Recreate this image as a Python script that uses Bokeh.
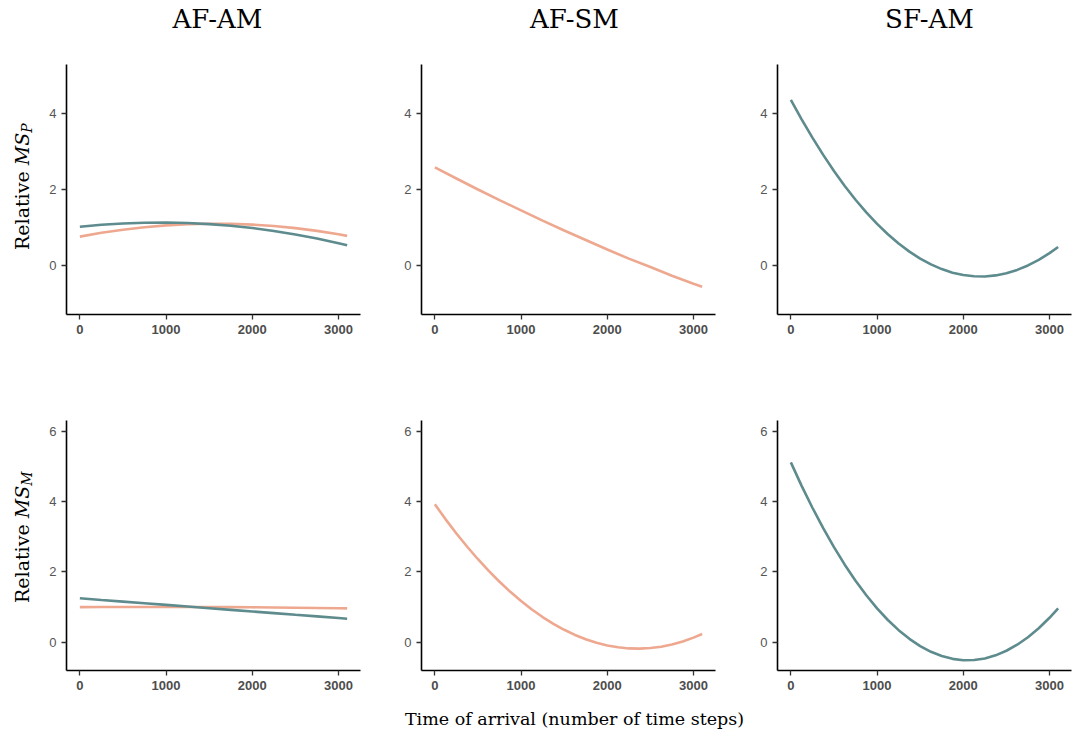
from bokeh.plotting import figure
from bokeh.models import Range1d, FixedTicker, Label, Div
from bokeh.layouts import column, row
from bokeh.embed import file_html
from bokeh.resources import INLINE

# ---------------- data ----------------
col_titles = ["AF-AM", "AF-SM", "SF-AM"]
x_label = "Time of arrival (number of time steps)"
y_label_subs = ["P", "M"]
x_ticks = [0, 1000, 2000, 3000]
msp_ticks = [0, 2, 4]
msm_ticks = [0, 2, 4, 6]

time_steps = [0, 250, 500, 750, 1000, 1250, 1500, 1750, 2000, 2250, 2500, 2750, 3000, 3100]
time_steps_fine = [0, 125, 250, 375, 500, 625, 750, 875, 1000, 1125, 1250, 1375, 1500, 1625,
                   1750, 1875, 2000, 2125, 2250, 2375, 2500, 2625, 2750, 2875, 3000, 3100]

# Relative MS_P (top row)
msp_afam_teal = [1.02, 1.071, 1.107, 1.126, 1.130, 1.118, 1.089, 1.045, 0.985, 0.909, 0.817, 0.708, 0.584, 0.53]
msp_afam_salmon = [0.76, 0.860, 0.942, 1.007, 1.056, 1.086, 1.100, 1.097, 1.076, 1.038, 0.983, 0.911, 0.821, 0.78]
msp_afsm_salmon = [2.58, 2.29, 2.00, 1.72, 1.45, 1.18, 0.92, 0.67, 0.42, 0.18, -0.04, -0.27, -0.48, -0.56]
msp_sfam_teal = [4.361, 3.848, 3.364, 2.911, 2.487, 2.094, 1.731, 1.397, 1.094, 0.821, 0.577, 0.364, 0.181,
                 0.028, -0.095, -0.189, -0.252, -0.285, -0.288, -0.261, -0.204, -0.116, 0.001, 0.148,
                 0.325, 0.488]

# Relative MS_M (bottom row)
msm_afam_teal = [1.25, 1.203, 1.157, 1.110, 1.063, 1.016, 0.969, 0.923, 0.876, 0.829, 0.782, 0.736, 0.689, 0.670]
msm_afam_salmon = [1.00, 1.002, 1.004, 1.005, 1.005, 1.004, 1.002, 0.999, 0.995, 0.990, 0.984, 0.977, 0.968, 0.964]
msm_afsm_salmon = [3.92, 3.493, 3.092, 2.714, 2.360, 2.028, 1.720, 1.434, 1.172, 0.933, 0.718, 0.525, 0.356,
                   0.210, 0.087, -0.013, -0.089, -0.142, -0.173, -0.180, -0.163, -0.124, -0.061, 0.025,
                   0.133, 0.237]
msm_sfam_teal = [5.11, 4.444, 3.822, 3.241, 2.702, 2.205, 1.750, 1.336, 0.964, 0.634, 0.346, 0.099, -0.106,
                 -0.269, -0.390, -0.469, -0.507, -0.503, -0.457, -0.369, -0.239, -0.068, 0.145, 0.400,
                 0.697, 0.964]

TEAL = "#5e8b8d"
SALMON = "#eea88f"
SERIF = "DejaVu Serif"
X_RANGE = (-155, 3255)
MSP_RANGE = (-1.29, 5.29)
MSM_RANGE = (-0.8, 6.3)
LW = 2.6


def make_panel(width, left, right, height, top, bottom, yr, yticks):
    p = figure(width=width, height=height, x_range=Range1d(*X_RANGE), y_range=Range1d(*yr),
               output_backend="svg", toolbar_location=None, tools="",
               min_border_left=left, min_border_right=right,
               min_border_top=top, min_border_bottom=bottom)
    p.outline_line_color = None
    p.xgrid.visible = False
    p.ygrid.visible = False
    p.background_fill_color = "white"
    p.border_fill_color = "white"
    p.xaxis.ticker = FixedTicker(ticks=x_ticks)
    p.yaxis.ticker = FixedTicker(ticks=yticks)
    for ax in (p.xaxis[0], p.yaxis[0]):
        ax.axis_line_color = "black"
        ax.axis_line_width = 1.6
        ax.major_tick_line_color = "#333333"
        ax.major_tick_line_width = 1.3
        ax.major_tick_out = 5
        ax.major_tick_in = 0
        ax.minor_tick_line_color = None
        ax.major_label_text_font = "Liberation Sans"
        ax.major_label_text_font_size = "13px"
        ax.major_label_standoff = 5
    p.xaxis.major_label_text_font_style = "bold"
    p.xaxis.major_label_text_color = "#4d4d4d"
    p.yaxis.major_label_text_color = "#555555"
    return p


def make_strip(width, height, x0, x1, y0, y1):
    s = figure(width=width, height=height, x_range=Range1d(x0, x1), y_range=Range1d(y0, y1),
               output_backend="svg", toolbar_location=None, tools="",
               min_border_left=0, min_border_right=0, min_border_top=0, min_border_bottom=0)
    s.xaxis.visible = False
    s.yaxis.visible = False
    s.xgrid.visible = False
    s.ygrid.visible = False
    s.outline_line_color = None
    s.border_fill_color = "white"
    s.background_fill_color = "white"
    return s


def ylabel_div(sub, height, start_y):
    html = (
        f'<div style="position:relative;width:36px;height:{height}px;overflow:visible;">'
        f'<div style="position:absolute;left:11px;top:{start_y}px;transform-origin:0 0;'
        f'transform:rotate(-90deg);white-space:nowrap;font-family:\'DejaVu Serif\';'
        f'font-size:19px;line-height:22px;color:black;">'
        f'Relative <i>MS<sub style="font-size:14px;vertical-align:-3px;line-height:0;">{sub}</sub></i>'
        f'</div></div>'
    )
    return Div(text=html, width=36, height=height, disable_math=True,
               styles={"margin": "0", "padding": "0"})


# left column with the y-axis labels
left_col = column(ylabel_div(y_label_subs[0], 370, 250), ylabel_div(y_label_subs[1], 363, 233))

# title strip (data units == pixels)
top_strip = make_strip(1037, 50, 36, 1073, 0, 50)
for cx, t in zip([217, 574, 929], col_titles):
    top_strip.add_layout(Label(x=cx, y=31.5, text=t, text_font=SERIF, text_font_size="26px",
                               text_align="center", text_baseline="middle", text_color="black"))

widths = [(327, 30, 3), (355, 58, 3), (355, 59, 2)]

top_figs = []
for w, l, r in widths:
    top_figs.append(make_panel(w, l, r, 320, 14, 56, MSP_RANGE, msp_ticks))

top_figs[0].line(time_steps, msp_afam_salmon, line_color=SALMON, line_width=LW)
top_figs[0].line(time_steps, msp_afam_teal, line_color=TEAL, line_width=LW)
top_figs[1].line(time_steps, msp_afsm_salmon, line_color=SALMON, line_width=LW)
top_figs[2].line(time_steps_fine, msp_sfam_teal, line_color=TEAL, line_width=LW)

bot_figs = []
for w, l, r in widths:
    bot_figs.append(make_panel(w, l, r, 325, 50, 25, MSM_RANGE, msm_ticks))

bot_figs[0].line(time_steps, msm_afam_salmon, line_color=SALMON, line_width=LW)
bot_figs[0].line(time_steps, msm_afam_teal, line_color=TEAL, line_width=LW)
bot_figs[1].line(time_steps_fine, msm_afsm_salmon, line_color=SALMON, line_width=LW)
bot_figs[2].line(time_steps_fine, msm_sfam_teal, line_color=TEAL, line_width=LW)

# x-label strip
bottom_strip = make_strip(1037, 38, 36, 1073, 0, 38)
bottom_strip.add_layout(Label(x=574, y=15, text=x_label, text_font=SERIF, text_font_size="17.5px",
                              text_align="center", text_baseline="middle", text_color="black"))

layout = row(left_col, column(top_strip, row(*top_figs), row(*bot_figs), bottom_strip))
open("out.html", "w").write(file_html(layout, INLINE))
